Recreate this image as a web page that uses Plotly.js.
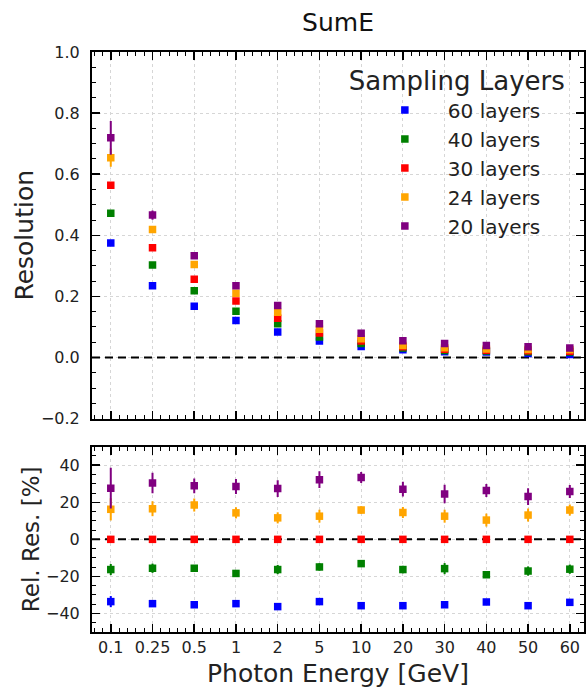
<!DOCTYPE html>
<html>
<head>
<meta charset="utf-8">
<script src="https://cdn.plot.ly/plotly-3.0.1.min.js"></script>
<style>
  html, body { margin: 0; padding: 0; background: #fff; }
  #chart { width: 587px; height: 690px; }
</style>
</head>
<body>
<div id="chart"></div>
<script>
// Photon energies (GeV), shown as evenly spaced categories
const energies = ['0.1', '0.25', '0.5', '1', '2', '5', '10', '20', '30', '40', '50', '60'];

// Legend labels for each sampling configuration
const layerNames = ['60 layers', '40 layers', '30 layers', '24 layers', '20 layers'];
const layerColors = ['#0000ff', '#008000', '#ff0000', '#ffa500', '#800080'];

// Energy resolution (sigma/E) from the summed energy
const res60 = [0.375, 0.235, 0.168, 0.121, 0.083, 0.054, 0.036, 0.025, 0.019, 0.018, 0.013, 0.010];
const res40 = [0.472, 0.303, 0.218, 0.151, 0.110, 0.067, 0.046, 0.031, 0.023, 0.021, 0.019, 0.018];
const res30 = [0.564, 0.359, 0.256, 0.185, 0.128, 0.080, 0.054, 0.035, 0.027, 0.024, 0.022, 0.020];
const res24 = [0.654, 0.419, 0.304, 0.210, 0.148, 0.092, 0.061, 0.039, 0.032, 0.028, 0.026, 0.025];
const res20 = [0.719, 0.466, 0.333, 0.235, 0.170, 0.110, 0.079, 0.055, 0.046, 0.039, 0.035, 0.031];

// Uncertainties on the resolution
const resErr60 = [0.006, 0.004, 0.003, 0.002, 0.002, 0.001, 0.001, 0.001, 0.001, 0.001, 0.001, 0.001];
const resErr40 = [0.008, 0.005, 0.004, 0.003, 0.002, 0.002, 0.001, 0.001, 0.001, 0.001, 0.001, 0.001];
const resErr30 = [0.010, 0.006, 0.005, 0.004, 0.003, 0.002, 0.002, 0.002, 0.001, 0.001, 0.001, 0.001];
const resErr24 = [0.030, 0.010, 0.008, 0.006, 0.005, 0.004, 0.003, 0.002, 0.002, 0.002, 0.002, 0.001];
const resErr20 = [0.055, 0.015, 0.010, 0.008, 0.006, 0.005, 0.004, 0.003, 0.003, 0.002, 0.002, 0.002];

// Resolution relative to the 30-layer configuration, in percent
const rel60 = [-33.6, -34.7, -35.3, -34.7, -36.3, -33.6, -35.8, -35.8, -35.3, -33.8, -35.8, -34.0];
const rel40 = [-16.3, -15.6, -15.6, -18.4, -16.3, -14.9, -13.1, -16.3, -15.8, -19.1, -17.1, -16.1];
const rel30 = [0, 0, 0, 0, 0, 0, 0, 0, 0, 0, 0, 0];
const rel24 = [16.2, 16.5, 18.5, 14.3, 11.6, 12.5, 15.8, 14.5, 12.5, 10.4, 13.1, 15.8];
const rel20 = [27.6, 30.4, 28.9, 28.5, 27.4, 32.2, 33.4, 27.1, 24.5, 26.3, 23.1, 25.8];

const relErr60 = [3.0, 1.5, 1.5, 1.5, 1.5, 1.5, 1.2, 1.2, 1.2, 1.5, 1.2, 1.5];
const relErr40 = [3.0, 2.5, 1.5, 1.0, 2.5, 2.0, 1.0, 2.0, 3.0, 1.0, 2.5, 2.5];
const relErr30 = [0, 0, 0, 0, 0, 0, 0, 0, 0, 0, 0, 0];
const relErr24 = [6.0, 4.0, 3.5, 3.0, 3.0, 3.5, 2.0, 3.0, 3.5, 3.5, 3.5, 3.0];
const relErr20 = [11.0, 5.5, 4.0, 4.0, 4.5, 4.5, 3.0, 4.0, 5.0, 3.5, 4.5, 3.5];

const resSeries = [res60, res40, res30, res24, res20];
const resErrSeries = [resErr60, resErr40, resErr30, resErr24, resErr20];
const relSeries = [rel60, rel40, rel30, rel24, rel20];
const relErrSeries = [relErr60, relErr40, relErr30, relErr24, relErr20];

const xIdx = energies.map((_, i) => i);
const FONT = 'DejaVu Sans, Bitstream Vera Sans, sans-serif';
const TXT = '#222222';

const traces = [];
layerNames.forEach((name, k) => {
  traces.push({
    type: 'scatter', mode: 'markers',
    x: xIdx, y: resSeries[k],
    xaxis: 'x', yaxis: 'y',
    name: name, legendgroup: name,
    marker: { symbol: 'square', size: 7.5, color: layerColors[k] },
    error_y: { type: 'data', array: resErrSeries[k], visible: true,
               color: layerColors[k], thickness: 2, width: 0 }
  });
});
layerNames.forEach((name, k) => {
  traces.push({
    type: 'scatter', mode: 'markers',
    x: xIdx, y: relSeries[k],
    xaxis: 'x2', yaxis: 'y2',
    name: name, legendgroup: name, showlegend: false,
    marker: { symbol: 'square', size: 7.5, color: layerColors[k] },
    error_y: { type: 'data', array: relErrSeries[k], visible: true,
               color: layerColors[k], thickness: 2, width: 0 }
  });
});

// Shared frame style: inward ticks on all four sides, dotted grid
const frame = {
  showline: true, linewidth: 2, linecolor: '#000',
  mirror: 'allticks', ticks: 'inside', ticklen: 8, tickwidth: 1.5, tickcolor: '#000',
  showgrid: true, gridcolor: '#d6d6d6', gridwidth: 1, griddash: 'dot',
  zeroline: false, automargin: false,
  tickfont: { family: FONT, size: 16, color: TXT }
};

const xRange = [-0.45, 11.34];

const layout = {
  width: 587, height: 690,
  margin: { l: 92, r: 3, t: 52, b: 58 },
  paper_bgcolor: '#fff', plot_bgcolor: '#fff',
  font: { family: FONT, color: TXT },
  title: { text: 'SumE', font: { family: FONT, size: 25, color: '#111' },
           x: 0.5, xref: 'paper', xanchor: 'center', y: 0.968, yanchor: 'middle' },
  xaxis: Object.assign({}, frame, {
    domain: [0, 1], anchor: 'y', range: xRange,
    tickmode: 'array', tickvals: xIdx, ticktext: energies, showticklabels: false,
    minor: { tickmode: 'linear', tick0: 0, dtick: 0.2, ticks: 'inside', ticklen: 4,
             tickwidth: 1, tickcolor: '#000', showgrid: false }
  }),
  yaxis: Object.assign({}, frame, {
    domain: [0.368, 1], anchor: 'x', range: [-0.2, 1.0],
    tickmode: 'linear', tick0: 0, dtick: 0.2, tickformat: '.1f', ticklabelstandoff: 7,
    minor: { tickmode: 'linear', tick0: 0, dtick: 0.05, ticks: 'inside', ticklen: 4,
             tickwidth: 1, tickcolor: '#000', showgrid: false },
    title: { text: 'Resolution', font: { family: FONT, size: 25, color: TXT }, standoff: 0 }
  }),
  xaxis2: Object.assign({}, frame, {
    domain: [0, 1], anchor: 'y2', range: xRange, matches: 'x',
    tickmode: 'array', tickvals: xIdx, ticktext: energies,
    minor: { tickmode: 'linear', tick0: 0, dtick: 0.2, ticks: 'inside', ticklen: 4,
             tickwidth: 1, tickcolor: '#000', showgrid: false },
    title: { text: 'Photon Energy [GeV]', font: { family: FONT, size: 25, color: TXT }, standoff: 8 }
  }),
  yaxis2: Object.assign({}, frame, {
    domain: [0, 0.3195], anchor: 'x2', range: [-50, 50],
    tickmode: 'linear', tick0: 0, dtick: 20, ticklabelstandoff: 7,
    minor: { tickmode: 'linear', tick0: 0, dtick: 5, ticks: 'inside', ticklen: 4,
             tickwidth: 1, tickcolor: '#000', showgrid: false },
    title: { text: 'Rel. Res. [%]', font: { family: FONT, size: 23, color: TXT }, standoff: 0 }
  }),
  // Dashed reference lines at zero across each panel, above the grid and under the markers
  shapes: [
    { type: 'line', xref: 'x', x0: xRange[0], x1: xRange[1], yref: 'y', y0: 0, y1: 0, layer: 'between',
      line: { color: '#000', width: 2, dash: '8px,5px' } },
    { type: 'line', xref: 'x2', x0: xRange[0], x1: xRange[1], yref: 'y2', y0: 0, y1: 0, layer: 'between',
      line: { color: '#000', width: 2, dash: '8px,5px' } }
  ],
  legend: {
    title: { text: 'Sampling Layers', font: { family: FONT, size: 26, color: TXT } },
    font: { family: FONT, size: 20, color: TXT },
    x: 0.518, xanchor: 'left', y: 0.992, yanchor: 'top',
    bgcolor: 'rgba(0,0,0,0)', borderwidth: 0,
    itemwidth: 76, indentation: 15, tracegroupgap: 0
  },
  showlegend: true
};

Plotly.newPlot('chart', traces, layout, { displayModeBar: false, staticPlot: true });
</script>
</body>
</html>
